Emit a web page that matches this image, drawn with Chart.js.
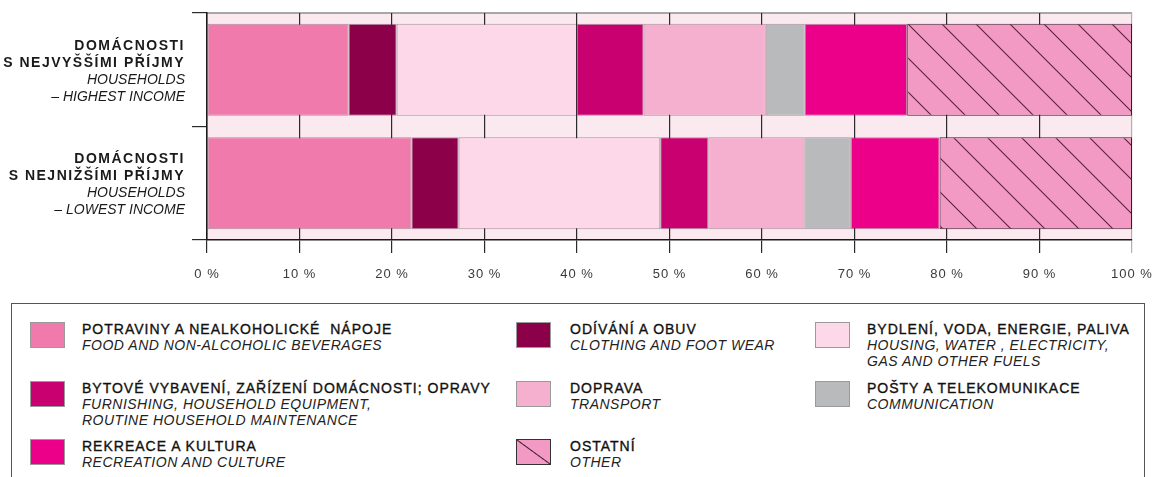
<!DOCTYPE html>
<html>
<head>
<meta charset="utf-8">
<script src="https://cdn.jsdelivr.net/npm/chart.js@4/dist/chart.umd.min.js"></script>
<style>
  html, body { margin: 0; padding: 0; background: #fff; width: 1156px; height: 477px; overflow: hidden; }
  #wrap { position: relative; width: 1156px; height: 477px; font-family: "Liberation Sans", Arial, sans-serif; }
  #chart { position: absolute; left: 0; top: 0; }
  #legendBox { position: absolute; left: 11px; top: 303px; width: 1134px; height: 200px; border: 1.5px solid #555; box-sizing: border-box; }
  .sw { position: absolute; width: 35px; height: 26px; box-sizing: border-box; border: 1px solid #9a9a9a; }
  .tx { position: absolute; white-space: pre; font-size: 14px; line-height: 16px; color: #111; letter-spacing: 1px; }
  .tx .cz { -webkit-text-stroke: 0.35px #111; }
  .tx .en { font-style: italic; letter-spacing: 0.5px; color: #222; }
</style>
</head>
<body>
<div id="wrap">
  <canvas id="chart" width="1156" height="295"></canvas>
  <div id="legendBox"></div>
</div>
<script>
// Household groups (Czech lines, English lines)
const categoryCz = [
  ["DOMÁCNOSTI", "S NEJVYŠŠÍMI PŘÍJMY"],
  ["DOMÁCNOSTI", "S NEJNIŽŠÍMI PŘÍJMY"]
];
const categoryEn = [
  ["HOUSEHOLDS", "– HIGHEST INCOME"],
  ["HOUSEHOLDS", "– LOWEST INCOME"]
];

// Expenditure groups
const seriesCz = [
  "POTRAVINY A NEALKOHOLICKÉ  NÁPOJE",
  "ODÍVÁNÍ A OBUV",
  "BYDLENÍ, VODA, ENERGIE, PALIVA",
  "BYTOVÉ VYBAVENÍ, ZAŘÍZENÍ DOMÁCNOSTI; OPRAVY",
  "DOPRAVA",
  "POŠTY A TELEKOMUNIKACE",
  "REKREACE A KULTURA",
  "OSTATNÍ"
];
const seriesEn = [
  ["FOOD AND NON-ALCOHOLIC BEVERAGES"],
  ["CLOTHING AND FOOT WEAR"],
  ["HOUSING, WATER , ELECTRICITY,", "GAS AND OTHER FUELS"],
  ["FURNISHING, HOUSEHOLD EQUIPMENT,", "ROUTINE HOUSEHOLD MAINTENANCE"],
  ["TRANSPORT"],
  ["COMMUNICATION"],
  ["RECREATION AND CULTURE"],
  ["OTHER"]
];

// Share of expenditure, %
const highestIncome = [15.3, 5.2, 19.5, 7.2, 13.2, 4.2, 11.1, 24.3];
const lowestIncome  = [22.1, 5.1, 21.8, 5.2, 10.4, 5.0, 9.6, 20.8];

// Axis ticks
const xTicks = [0, 10, 20, 30, 40, 50, 60, 70, 80, 90, 100];

const seriesColors = ["#f07aab", "#8c004a", "#fdd8e8", "#c9006f", "#f6b0cf", "#b8babc", "#ec0089", "#f39ac4"];
const FONT = '"Liberation Sans", Arial, sans-serif';

// Diagonal hatch for the "other" group
function hatch(base) {
  const s = 34;
  const c = document.createElement('canvas');
  c.width = s; c.height = s;
  const g = c.getContext('2d');
  g.fillStyle = base;
  g.fillRect(0, 0, s, s);
  g.strokeStyle = '#5a1f3c';
  g.lineWidth = 1.1;
  for (const k of [-s, 0, s]) {
    g.beginPath();
    g.moveTo(-1, k - 1);
    g.lineTo(s + 1, s + k + 1);
    g.stroke();
  }
  return g.createPattern(c, 'repeat');
}

const ctx = document.getElementById('chart').getContext('2d');
const otherFill = hatch(seriesColors[7]);

const datasets = seriesCz.map((name, i) => ({
  label: name,
  data: [highestIncome[i], lowestIncome[i]],
  backgroundColor: i === 7 ? otherFill : seriesColors[i],
  legendColor: seriesColors[i],
  borderColor: i === 7 ? '#3a1a2a' : 'rgba(70,40,55,0.45)',
  borderWidth: 1,
  borderSkipped: false,
  categoryPercentage: 0.81,
  barPercentage: 1.0
}));

const plotBackground = {
  id: 'plotBackground',
  beforeInit(chart) { chart.ctx.letterSpacing = '1px'; },
  beforeDraw(chart) {
    const { ctx, chartArea: a } = chart;
    ctx.letterSpacing = '1px';
    ctx.save();
    ctx.fillStyle = '#fbe9f0';
    ctx.fillRect(a.left, a.top, a.right - a.left, a.bottom - a.top);
    ctx.strokeStyle = '#8c8c8c';
    ctx.lineWidth = 1.5;
    ctx.beginPath();
    ctx.moveTo(a.left, a.top);
    ctx.lineTo(a.right, a.top);
    ctx.stroke();
    ctx.restore();
  }
};

const groupLabels = {
  id: 'groupLabels',
  afterDraw(chart) {
    const { ctx, chartArea, scales } = chart;
    const y = scales.y;
    ctx.save();
    ctx.textAlign = 'right';
    ctx.textBaseline = 'middle';
    ctx.fillStyle = '#1a1a1a';
    const xr = chartArea.left - 22;
    categoryCz.forEach((lines, i) => {
      const cy = y.getPixelForValue(i) + 1.5;
      const rows = lines.map(t => [t, 'bold 14px ' + FONT, '1.5px'])
        .concat(categoryEn[i].map(t => [t, 'italic 14px ' + FONT, '0px']));
      const n = rows.length, lh = 17;
      rows.forEach(([t, f, ls], k) => {
        ctx.font = f;
        ctx.letterSpacing = ls;
        ctx.fillText(t, xr, cy + (k - (n - 1) / 2) * lh);
      });
    });
    ctx.restore();
  }
};

const chart = new Chart(ctx, {
  type: 'bar',
  data: { labels: categoryCz.map(l => l.join(' ')), datasets },
  options: {
    responsive: false,
    animation: false,
    indexAxis: 'y',
    layout: { padding: { top: 13, right: 24, left: 0, bottom: 0 } },
    plugins: { legend: { display: false }, tooltip: { enabled: false }, title: { display: false } },
    scales: {
      x: {
        stacked: true,
        min: 0,
        max: 100,
        afterBuildTicks(scale) { scale.ticks = xTicks.map(v => ({ value: v })); },
        ticks: {
          callback: v => v + ' %',
          color: '#3a3a3a',
          font: { family: FONT, size: 13 },
          padding: 14,
          maxRotation: 0
        },
        grid: {
          color: c => (c.index === 10 ? '#b0b0b0' : '#2a2a2a'),
          lineWidth: 1.2,
          tickLength: 13,
          drawOnChartArea: true
        },
        border: { display: true, color: '#1a1a1a', width: 1.5 },
        afterFit(scale) { scale.height = 55; scale.paddingLeft = 0; scale.paddingRight = 0; }
      },
      y: {
        stacked: true,
        offset: true,
        ticks: { display: false },
        grid: { offset: true, drawOnChartArea: false, tickLength: 15, color: '#2a2a2a', lineWidth: 1.2 },
        border: { display: true, color: '#1a1a1a', width: 1.5 },
        afterFit(scale) { scale.width = 207; scale.paddingTop = 0; scale.paddingBottom = 0; }
      }
    }
  },
  plugins: [plotBackground, groupLabels]
});

// Legend built from the chart's datasets, three columns row by row
(function buildLegend() {
  const wrap = document.getElementById('wrap');
  const colSwatchX = [30, 516, 815];
  const colTextX = [82, 570, 867];
  const rowY = [322, 381, 439];
  chart.data.datasets.forEach((ds, i) => {
    const col = i % 3, row = Math.floor(i / 3);
    const sw = document.createElement('div');
    sw.className = 'sw';
    sw.style.left = colSwatchX[col] + 'px';
    sw.style.top = rowY[row] + 'px';
    if (i === 7) {
      sw.style.background = 'linear-gradient(to top right, transparent calc(50% - 1px), #3a1a2a 50%, transparent calc(50% + 1px)), ' + ds.legendColor;
      sw.style.border = '1.5px solid #333';
    } else {
      sw.style.background = ds.legendColor;
    }
    wrap.appendChild(sw);
    const tx = document.createElement('div');
    tx.className = 'tx';
    tx.style.left = colTextX[col] + 'px';
    tx.style.top = (rowY[row] - 1) + 'px';
    const cz = document.createElement('div');
    cz.className = 'cz';
    cz.textContent = ds.label;
    tx.appendChild(cz);
    seriesEn[i].forEach(line => {
      const en = document.createElement('div');
      en.className = 'en';
      en.textContent = line;
      tx.appendChild(en);
    });
    wrap.appendChild(tx);
  });
})();
</script>
</body>
</html>
